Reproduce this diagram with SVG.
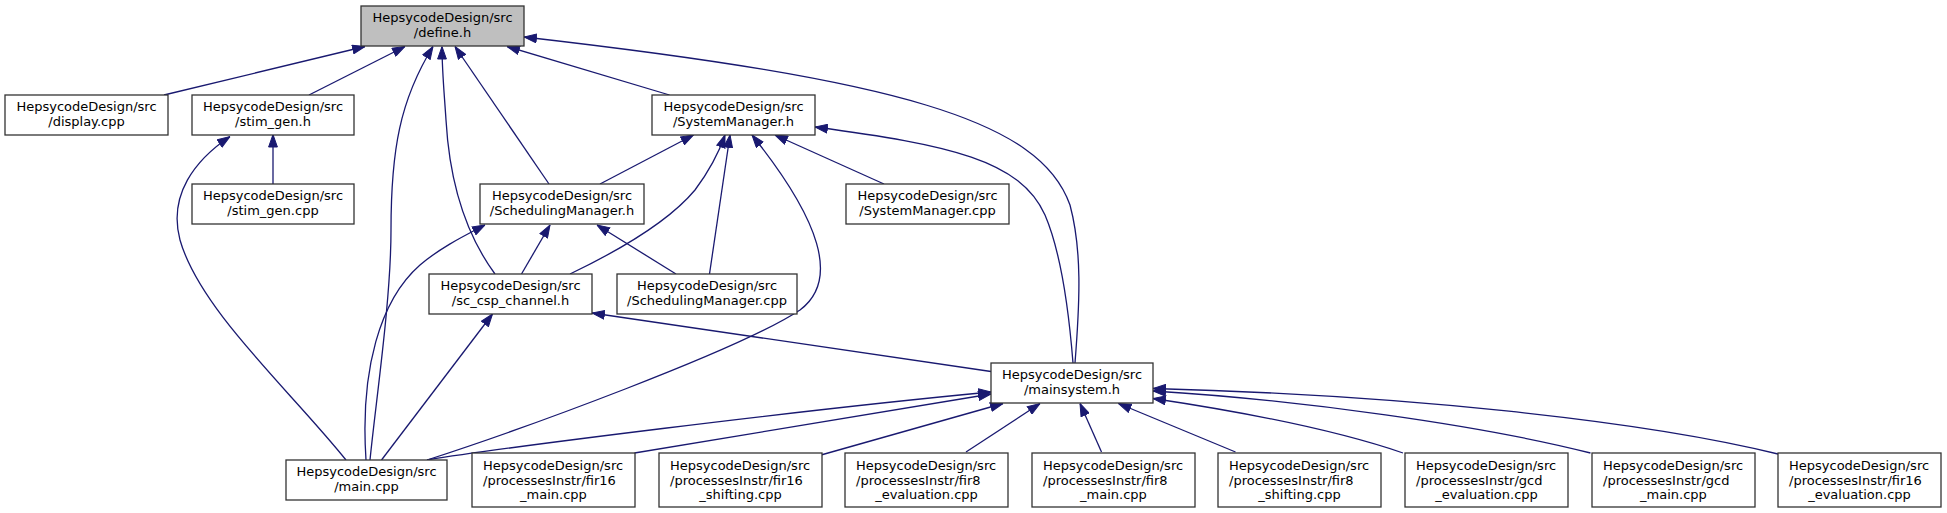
<svg xmlns="http://www.w3.org/2000/svg" width="1947" height="513" viewBox="0 0 1947 513">
<style>
.n rect{fill:#ffffff;stroke:#333333;stroke-width:1.3}
.n.cur rect{fill:#bfbfbf}
.n text{font-family:"DejaVu Sans","Liberation Sans",sans-serif;font-size:13px;fill:#000000}
.m{text-anchor:middle}
.e path{fill:none;stroke:#191970;stroke-width:1.3;marker-end:url(#ah)}
</style>
<defs>
<marker id="ah" markerUnits="userSpaceOnUse" viewBox="0 0 13 10" refX="13" refY="5" markerWidth="13" markerHeight="10" orient="auto">
<path d="M0.5,0.6 L13,5 L0.5,9.4 z" fill="#191970" stroke="#191970" stroke-width="1"/>
</marker>
</defs>
<rect x="0" y="0" width="1947" height="513" fill="#ffffff"/>
<g id="edges" class="e">
<path d="M164,95 L365,46.5"/>
<path d="M309,95 L405,46.5"/>
<path d="M370,460 C376,400 391,300 391,230 C391,150 400,100 433,46.5"/>
<path d="M495,274 C470,240 450,190 446,120 C444,90 442,70 442,46.5"/>
<path d="M549,184 L455,46.5"/>
<path d="M669.5,95 L507,46.5"/>
<path d="M1075,363 C1080,300 1082,250 1070,205 C1040,120 900,80 524,37"/>
<path d="M273,184 L273,134.5"/>
<path d="M346,460 C290,390 200,310 180,240 C168,195 195,160 230,136.5"/>
<path d="M600,184 L693.5,135"/>
<path d="M570,274 C620,250 670,220 695,190 C710,170 718,155 725,135"/>
<path d="M709.5,274 L730,135"/>
<path d="M427,460 C520,430 740,350 800,310 C840,280 820,220 752,135"/>
<path d="M884,184 L775,135"/>
<path d="M1073,363 C1068,300 1060,250 1045,215 C1020,160 950,145 815,127"/>
<path d="M521.5,274 L550,225"/>
<path d="M366,460 C360,370 380,300 420,265 C440,248 462,237 485,225"/>
<path d="M676,274 L597,225"/>
<path d="M381.5,460 L492.5,314"/>
<path d="M991,371.5 L592,313"/>
<path d="M427,460 C500,448 800,410 991,392"/>
<path d="M634.5,453 L991,394"/>
<path d="M821,455 L1003,403.5"/>
<path d="M966,452 L1040,403.5"/>
<path d="M1101.5,452 L1080,403.5"/>
<path d="M1235.5,452 L1118.5,403.5"/>
<path d="M1403,453 C1330,428 1230,410 1153,398.5"/>
<path d="M1590.5,453 C1480,425 1300,400 1153,391"/>
<path d="M1778,454 C1640,420 1400,395 1153,388.5"/>
</g>
<g id="define_h" class="n cur"><rect x="361" y="6" width="163" height="40"/><text class="m" x="442.5" y="22">HepsycodeDesign/src</text><text class="m" x="442.5" y="37">/define.h</text></g>
<g id="display_cpp" class="n"><rect x="5" y="95" width="163" height="40"/><text class="m" x="86.5" y="111">HepsycodeDesign/src</text><text class="m" x="86.5" y="126">/display.cpp</text></g>
<g id="stim_gen_h" class="n"><rect x="192" y="95" width="162" height="40"/><text class="m" x="273" y="111">HepsycodeDesign/src</text><text class="m" x="273" y="126">/stim_gen.h</text></g>
<g id="stim_gen_cpp" class="n"><rect x="192" y="184" width="162" height="40"/><text class="m" x="273" y="200">HepsycodeDesign/src</text><text class="m" x="273" y="215">/stim_gen.cpp</text></g>
<g id="SystemManager_h" class="n"><rect x="652" y="95" width="163" height="40"/><text class="m" x="733.5" y="111">HepsycodeDesign/src</text><text class="m" x="733.5" y="126">/SystemManager.h</text></g>
<g id="SchedulingManager_h" class="n"><rect x="480" y="184" width="164" height="40"/><text class="m" x="562" y="200">HepsycodeDesign/src</text><text class="m" x="562" y="215">/SchedulingManager.h</text></g>
<g id="SystemManager_cpp" class="n"><rect x="846" y="184" width="163" height="40"/><text class="m" x="927.5" y="200">HepsycodeDesign/src</text><text class="m" x="927.5" y="215">/SystemManager.cpp</text></g>
<g id="sc_csp_channel_h" class="n"><rect x="429" y="274" width="163" height="40"/><text class="m" x="510.5" y="290">HepsycodeDesign/src</text><text class="m" x="510.5" y="305">/sc_csp_channel.h</text></g>
<g id="SchedulingManager_cpp" class="n"><rect x="617" y="274" width="180" height="40"/><text class="m" x="707" y="290">HepsycodeDesign/src</text><text class="m" x="707" y="305">/SchedulingManager.cpp</text></g>
<g id="mainsystem_h" class="n"><rect x="991" y="363" width="162" height="40"/><text class="m" x="1072" y="379">HepsycodeDesign/src</text><text class="m" x="1072" y="394">/mainsystem.h</text></g>
<g id="main_cpp" class="n"><rect x="286" y="460" width="161" height="40"/><text class="m" x="366.5" y="476">HepsycodeDesign/src</text><text class="m" x="366.5" y="491">/main.cpp</text></g>
<g id="fir16_main_cpp" class="n"><rect x="472" y="453" width="163" height="54"/><text x="483" y="470">HepsycodeDesign/src</text><text x="483" y="484.5">/processesInstr/fir16</text><text class="m" x="553.5" y="499">_main.cpp</text></g>
<g id="fir16_shifting_cpp" class="n"><rect x="659" y="453" width="163" height="54"/><text x="670" y="470">HepsycodeDesign/src</text><text x="670" y="484.5">/processesInstr/fir16</text><text class="m" x="740.5" y="499">_shifting.cpp</text></g>
<g id="fir8_evaluation_cpp" class="n"><rect x="845" y="453" width="163" height="54"/><text x="856" y="470">HepsycodeDesign/src</text><text x="856" y="484.5">/processesInstr/fir8</text><text class="m" x="926.5" y="499">_evaluation.cpp</text></g>
<g id="fir8_main_cpp" class="n"><rect x="1032" y="453" width="163" height="54"/><text x="1043" y="470">HepsycodeDesign/src</text><text x="1043" y="484.5">/processesInstr/fir8</text><text class="m" x="1113.5" y="499">_main.cpp</text></g>
<g id="fir8_shifting_cpp" class="n"><rect x="1218" y="453" width="163" height="54"/><text x="1229" y="470">HepsycodeDesign/src</text><text x="1229" y="484.5">/processesInstr/fir8</text><text class="m" x="1299.5" y="499">_shifting.cpp</text></g>
<g id="gcd_evaluation_cpp" class="n"><rect x="1405" y="453" width="163" height="54"/><text x="1416" y="470">HepsycodeDesign/src</text><text x="1416" y="484.5">/processesInstr/gcd</text><text class="m" x="1486.5" y="499">_evaluation.cpp</text></g>
<g id="gcd_main_cpp" class="n"><rect x="1592" y="453" width="163" height="54"/><text x="1603" y="470">HepsycodeDesign/src</text><text x="1603" y="484.5">/processesInstr/gcd</text><text class="m" x="1673.5" y="499">_main.cpp</text></g>
<g id="fir16_evaluation_cpp" class="n"><rect x="1778" y="453" width="163" height="54"/><text x="1789" y="470">HepsycodeDesign/src</text><text x="1789" y="484.5">/processesInstr/fir16</text><text class="m" x="1859.5" y="499">_evaluation.cpp</text></g>
</svg>
